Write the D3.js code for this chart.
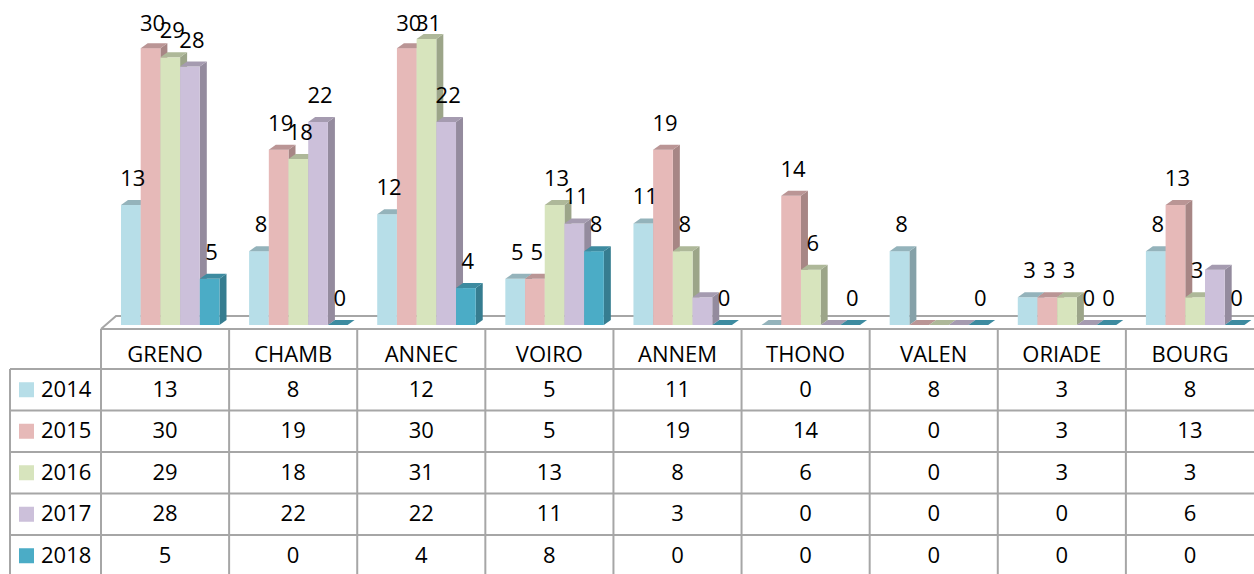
<!DOCTYPE html>
<html>
<head>
<meta charset="utf-8">
<script src="https://cdn.jsdelivr.net/npm/d3@7"></script>
<style>
  body { margin: 0; background: #fff; }
  text { font-family: "Open Sans", "Noto Sans", sans-serif; fill: #000; }
</style>
</head>
<body>
<svg id="chart" width="1254" height="574"></svg>
<script>
// data
var categories = ["GRENO", "CHAMB", "ANNEC", "VOIRO", "ANNEM", "THONO", "VALEN", "ORIADE", "BOURG"];
var years = ["2014", "2015", "2016", "2017", "2018"];
var v2014 = [13, 8, 12, 5, 11, 0, 8, 3, 8];
var v2015 = [30, 19, 30, 5, 19, 14, 0, 3, 13];
var v2016 = [29, 18, 31, 13, 8, 6, 0, 3, 3];
var v2017 = [28, 22, 22, 11, 3, 0, 0, 0, 6];
var v2018 = [5, 0, 4, 8, 0, 0, 0, 0, 0];
var colors = ["#b7dee8", "#e6b9b8", "#d7e4bd", "#ccc0da", "#4bacc6"];
// labels that do not show in the original ("category|year")
var hiddenLabels = ["ANNEM|2017", "THONO|2014", "THONO|2017", "VALEN|2015", "VALEN|2016", "VALEN|2017", "BOURG|2017"];

var series = [v2014, v2015, v2016, v2017, v2018];

var W = 1254, H = 574;
var tableLeft = 101, legendLeft = 10;
var base = 325;
var depthX = 7, depthY = -5;
var gridColor = "#a6a6a6";
var fontSize = "22px";

var svg = d3.select("#chart");

var x0 = d3.scaleBand().domain(categories).range([tableLeft, W]);
var x1 = d3.scaleBand().domain(years).range([20, 118.5]);
var y = d3.scaleLinear().domain([0, 35]).range([base, 2]);

// floor
svg.append("path")
  .attr("d", "M" + tableLeft + "," + 329 + " L" + (tableLeft + 15) + ",316 L" + W + ",316")
  .attr("fill", "none")
  .attr("stroke", gridColor)
  .attr("stroke-width", 2);

// bars, drawn left to right so the next front face covers the side
var bars = [];
categories.forEach(function(c, ci) {
  years.forEach(function(yr, si) {
    bars.push({cat: c, year: yr, si: si, value: series[si][ci]});
  });
});

var g = svg.append("g");
bars.forEach(function(d) {
  var bx = x0(d.cat) + x1(d.year);
  var bw = x1.bandwidth();
  var top = y(d.value);
  var col = colors[d.si];
  var bar = g.append("g");
  // side
  bar.append("path")
    .attr("d", "M" + (bx + bw) + "," + top + " L" + (bx + bw + depthX) + "," + (top + depthY) +
      " L" + (bx + bw + depthX) + "," + (base + depthY) + " L" + (bx + bw) + "," + base + "Z")
    .attr("fill", d3.color(col).darker(0.9));
  // front
  bar.append("rect")
    .attr("x", bx)
    .attr("y", top)
    .attr("width", bw)
    .attr("height", base - top)
    .attr("fill", col);
  // top
  bar.append("path")
    .attr("d", "M" + bx + "," + top + " L" + (bx + depthX) + "," + (top + depthY) +
      " L" + (bx + bw + depthX) + "," + (top + depthY) + " L" + (bx + bw) + "," + top + "Z")
    .attr("fill", d3.color(col).darker(0.6));
});

// value labels (kept inside the plot area like the original)
svg.append("g").selectAll("text")
  .data(bars.filter(function(d) { return hiddenLabels.indexOf(d.cat + "|" + d.year) < 0; }))
  .enter().append("text")
  .attr("x", function(d) { return x0(d.cat) + x1(d.year) + x1.bandwidth() / 2 + 2; })
  .attr("y", function(d) { return Math.max(y(d.value) - 19, 31); })
  .attr("text-anchor", "middle")
  .style("font-size", fontSize)
  .text(function(d) { return d.value; });

// data table
var rowTop = 369, rowH = 41.5;
var t = svg.append("g");

// header cells
t.selectAll(".hdr")
  .data(categories)
  .enter().append("text")
  .attr("class", "hdr")
  .attr("x", function(d) { return x0(d) + x0.bandwidth() / 2; })
  .attr("y", 356)
  .attr("text-anchor", "middle")
  .attr("dominant-baseline", "middle")
  .style("font-size", fontSize)
  .text(function(d) { return d; });

years.forEach(function(yr, si) {
  var cy = rowTop + si * rowH + rowH / 2;
  t.append("rect")
    .attr("x", 19)
    .attr("y", cy - 7.5)
    .attr("width", 15)
    .attr("height", 15)
    .attr("fill", colors[si]);
  t.append("text")
    .attr("x", 41)
    .attr("y", cy + 1)
    .attr("dominant-baseline", "middle")
    .style("font-size", fontSize)
    .text(yr);
  t.selectAll(".cell" + si)
    .data(series[si])
    .enter().append("text")
    .attr("class", "cell" + si)
    .attr("x", function(d, i) { return x0(categories[i]) + x0.bandwidth() / 2; })
    .attr("y", cy + 1)
    .attr("text-anchor", "middle")
    .attr("dominant-baseline", "middle")
    .style("font-size", fontSize)
    .text(function(d) { return d; });
});

// grid lines
var lines = t.append("g").attr("stroke", gridColor).attr("stroke-width", 2);
lines.append("line").attr("x1", tableLeft).attr("x2", W).attr("y1", 329).attr("y2", 329);
d3.range(5).forEach(function(i) {
  var ly = rowTop + i * rowH;
  lines.append("line").attr("x1", legendLeft).attr("x2", W).attr("y1", ly).attr("y2", ly);
});
lines.append("line").attr("x1", legendLeft).attr("x2", legendLeft).attr("y1", rowTop).attr("y2", H);
categories.forEach(function(c) {
  lines.append("line").attr("x1", x0(c)).attr("x2", x0(c)).attr("y1", 329).attr("y2", H);
});
</script>
</body>
</html>
